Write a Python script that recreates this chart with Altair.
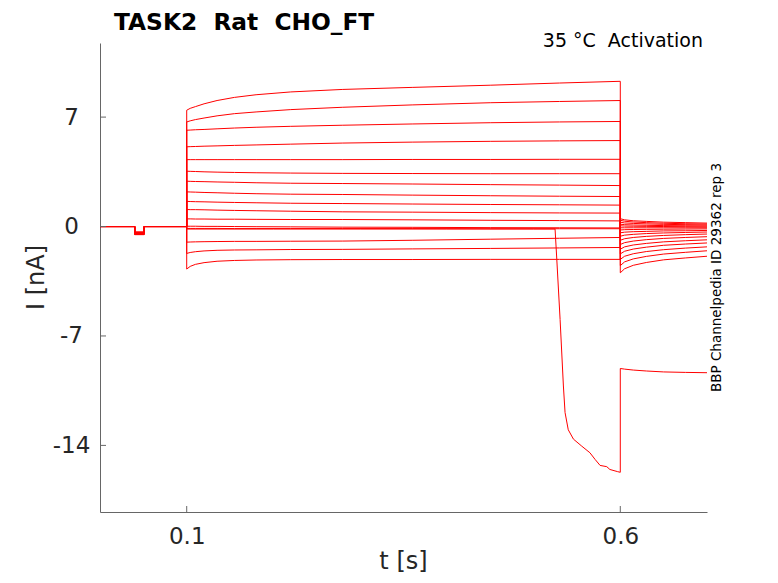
import altair as alt
import pandas as pd

# ---------------- data ----------------
T_PRE = [0.0, 0.04, 0.04, 0.051, 0.051, 0.1]
STEP_T = [0.1, 0.104, 0.11, 0.12, 0.135, 0.155, 0.18, 0.22, 0.28, 0.36, 0.45, 0.53, 0.6]
TAIL_T = [0.6, 0.605, 0.615, 0.63, 0.65, 0.675, 0.7]

# depth of the small test pulse (nA), one per sweep (16 sweeps + collapsing sweep)
DIP = [-0.52, -0.50, -0.49, -0.48, -0.47, -0.46, -0.45, -0.44, -0.43,
       -0.42, -0.41, -0.40, -0.39, -0.38, -0.37, -0.36, -0.35]

s01_step = [7.44, 7.56, 7.67, 7.85, 8.06, 8.26, 8.43, 8.61, 8.77, 8.90, 9.04, 9.18, 9.29]
s01_tail = [-2.96, -2.70, -2.48, -2.30, -2.13, -2.01, -1.90]
s02_step = [6.69, 6.76, 6.84, 6.94, 7.08, 7.22, 7.33, 7.48, 7.63, 7.78, 7.92, 8.00, 8.06]
s02_tail = [-2.50, -2.26, -2.07, -1.91, -1.76, -1.65, -1.55]
s03_step = [6.16, 6.17, 6.19, 6.21, 6.25, 6.30, 6.35, 6.41, 6.48, 6.56, 6.64, 6.69, 6.72]
s03_tail = [-2.10, -1.90, -1.74, -1.60, -1.48, -1.38, -1.30]
s04_step = [5.10, 5.11, 5.12, 5.14, 5.16, 5.19, 5.22, 5.27, 5.34, 5.40, 5.45, 5.48, 5.50]
s04_tail = [-1.75, -1.58, -1.44, -1.32, -1.20, -1.12, -1.05]
s05_step = [4.28, 4.28, 4.28, 4.28, 4.28, 4.28, 4.28, 4.28, 4.28, 4.29, 4.29, 4.30, 4.30]
s05_tail = [-1.45, -1.30, -1.18, -1.08, -0.98, -0.91, -0.85]
s06_step = [3.54, 3.53, 3.52, 3.50, 3.48, 3.46, 3.44, 3.42, 3.40, 3.39, 3.38, 3.38, 3.38]
s06_tail = [-1.15, -1.03, -0.93, -0.84, -0.76, -0.70, -0.65]
s07_step = [2.90, 2.89, 2.88, 2.87, 2.85, 2.83, 2.80, 2.77, 2.75, 2.72, 2.68, 2.65, 2.62]
s07_tail = [-0.88, -0.78, -0.70, -0.63, -0.57, -0.52, -0.48]
s08_step = [2.22, 2.21, 2.20, 2.18, 2.16, 2.13, 2.10, 2.07, 2.05, 2.01, 1.97, 1.94, 1.92]
s08_tail = [-0.62, -0.55, -0.50, -0.45, -0.41, -0.38, -0.35]
s09_step = [1.61, 1.60, 1.59, 1.58, 1.56, 1.54, 1.52, 1.49, 1.47, 1.44, 1.41, 1.39, 1.37]
s09_tail = [-0.40, -0.36, -0.33, -0.31, -0.28, -0.27, -0.25]
s10_step = [1.09, 1.08, 1.08, 1.07, 1.05, 1.03, 1.01, 0.98, 0.94, 0.92, 0.89, 0.87, 0.86]
s10_tail = [-0.22, -0.20, -0.19, -0.18, -0.17, -0.16, -0.15]
s11_step = [0.49, 0.49, 0.48, 0.48, 0.47, 0.47, 0.46, 0.45, 0.45, 0.43, 0.40, 0.38, 0.36]
s11_tail = [-0.08, -0.08, -0.08, -0.08, -0.08, -0.08, -0.08]
s12_step = [0.02, 0.02, 0.02, 0.01, 0.01, 0.00, -0.01, -0.02, -0.04, -0.05, -0.07, -0.08, -0.09]
s12_tail = [0.05, 0.03, 0.02, 0.01, 0.00, -0.01, -0.02]
s13_step = [-0.12, -0.12, -0.12, -0.12, -0.12, -0.13, -0.13, -0.13, -0.13, -0.13, -0.14, -0.14, -0.14]
s13_tail = [0.15, 0.12, 0.10, 0.08, 0.06, 0.05, 0.04]
s14_step = [-1.00, -0.99, -0.98, -0.97, -0.96, -0.95, -0.95, -0.94, -0.93, -0.88, -0.81, -0.75, -0.70]
s14_tail = [0.28, 0.23, 0.20, 0.17, 0.14, 0.12, 0.10]
s15_step = [-1.72, -1.66, -1.61, -1.56, -1.52, -1.50, -1.49, -1.47, -1.46, -1.43, -1.40, -1.37, -1.34]
s15_tail = [0.40, 0.34, 0.29, 0.25, 0.21, 0.18, 0.16]
s16_step = [-2.72, -2.55, -2.42, -2.31, -2.22, -2.17, -2.14, -2.12, -2.11, -2.11, -2.10, -2.10, -2.10]
s16_tail = [0.50, 0.43, 0.37, 0.33, 0.28, 0.25, 0.22]

# the sweep that breaks down near the end of its step
COLLAPSE_T = [0.1, 0.2, 0.3, 0.4, 0.5, 0.5248, 0.5268, 0.5306, 0.5344, 0.5363,
              0.540, 0.546, 0.5556, 0.565, 0.571, 0.5767, 0.5844, 0.588, 0.597, 0.6]
COLLAPSE_I = [-0.16, -0.16, -0.16, -0.16, -0.16, -0.16, -2.11, -5.95, -10.2, -11.9,
              -13.0, -13.6, -14.05, -14.47, -14.9, -15.28, -15.36, -15.54, -15.68, -15.72]
COLLAPSE_TAIL = [-9.08, -9.12, -9.18, -9.24, -9.30, -9.33, -9.35]

X_TICKS = [0.1, 0.6]
Y_TICKS = [-14, -7, 0, 7]

TITLE = "TASK2\u00a0 Rat\u00a0 CHO_FT"
NOTE = "35 °C\u00a0 Activation"
SIDE = "BBP Channelpedia ID 29362 rep 3"
X_TITLE = "t [s]"
Y_TITLE = "I [nA]"

# ---------------- build table ----------------
SWEEPS = [
    (s01_step, s01_tail), (s02_step, s02_tail), (s03_step, s03_tail), (s04_step, s04_tail),
    (s05_step, s05_tail), (s06_step, s06_tail), (s07_step, s07_tail), (s08_step, s08_tail),
    (s09_step, s09_tail), (s10_step, s10_tail), (s11_step, s11_tail), (s12_step, s12_tail),
    (s13_step, s13_tail), (s14_step, s14_tail), (s15_step, s15_tail), (s16_step, s16_tail),
]

rows = []


def add_sweep(sid, dip, step_t, step_i, tail_i):
    pre_i = [0.0, 0.0, dip, dip, 0.0, 0.0]
    ts = T_PRE + step_t + TAIL_T
    vs = pre_i + step_i + tail_i
    for k, (t, v) in enumerate(zip(ts, vs)):
        rows.append({"sweep": sid, "k": k, "t": t, "I": v})


for n, (st, tl) in enumerate(SWEEPS):
    add_sweep(n, DIP[n], STEP_T, st, tl)
add_sweep(len(SWEEPS), DIP[-1], COLLAPSE_T, COLLAPSE_I, COLLAPSE_TAIL)

df = pd.DataFrame(rows)

W, H = 607, 469
AX = "#666666"
TXT = "#262626"
FONT = "DejaVu Sans"

xscale = alt.Scale(domain=[0, 0.7], nice=False, zero=False)
yscale = alt.Scale(domain=[-18.26, 11.74], nice=False, zero=False)

xaxis = alt.Axis(values=X_TICKS, title=None, grid=False, ticks=False, tickSize=0,
                 labelExpr="format(datum.value, '.1f')", labelFontSize=23,
                 labelColor=TXT, labelFont=FONT, labelPadding=13,
                 domainColor=AX, labelFlush=False, labelOverlap=False)
yaxis = alt.Axis(values=Y_TICKS, title=None, grid=False, ticks=False, tickSize=0,
                 labelExpr="datum.value < 0 ? '-' + format(-datum.value, 'd') : format(datum.value, 'd')",
                 labelFontSize=23, labelColor=TXT, labelFont=FONT,
                 labelAlign="center", labelPadding=29,
                 domainColor=AX, labelFlush=False, labelOverlap=False)

traces = alt.Chart(df).mark_line(color="#ff0000", strokeWidth=1, clip=True).encode(
    x=alt.X("t:Q", scale=xscale, axis=xaxis),
    y=alt.Y("I:Q", scale=yscale, axis=yaxis),
    detail="sweep:N",
    order="k:Q",
)

ytick = alt.Chart(pd.DataFrame({"v": Y_TICKS})).mark_rule(color=AX, strokeWidth=1).encode(
    y=alt.Y("v:Q", scale=yscale, axis=yaxis),
    x=alt.value(0), x2=alt.value(6),
)
xtick = alt.Chart(pd.DataFrame({"v": X_TICKS})).mark_rule(color=AX, strokeWidth=1).encode(
    x=alt.X("v:Q", scale=xscale, axis=xaxis),
    y=alt.value(H), y2=alt.value(H - 6),
)


def label(text, x, y, size, weight="normal", align="center", baseline="alphabetic", angle=0, color=TXT):
    return alt.Chart(pd.DataFrame({"s": [text]})).mark_text(
        font=FONT, fontSize=size, fontWeight=weight, align=align, baseline=baseline,
        angle=angle, color=color,
    ).encode(text="s:N", x=alt.value(x), y=alt.value(y))


title = label(TITLE, 14, -13, 23.3, weight="bold", align="left", color="#000000")
note = label(NOTE, 603, 4, 19, align="right", color="#000000")
side = label(SIDE, 621, H / 2, 13.5, angle=270, color="#000000")
xt = label(X_TITLE, W / 2, 526, 24)
yt = label(Y_TITLE, -56, H / 2, 24, angle=270)

chart = alt.layer(traces, ytick, xtick, title, note, side, xt, yt).properties(
    width=W, height=H,
    padding={"left": 92, "top": 35, "right": 63, "bottom": 63},
    autosize=alt.AutoSizeParams(type="none"),
).configure_view(stroke=None)

chart.save("out.html", embed_options={"renderer": "svg", "actions": False})
